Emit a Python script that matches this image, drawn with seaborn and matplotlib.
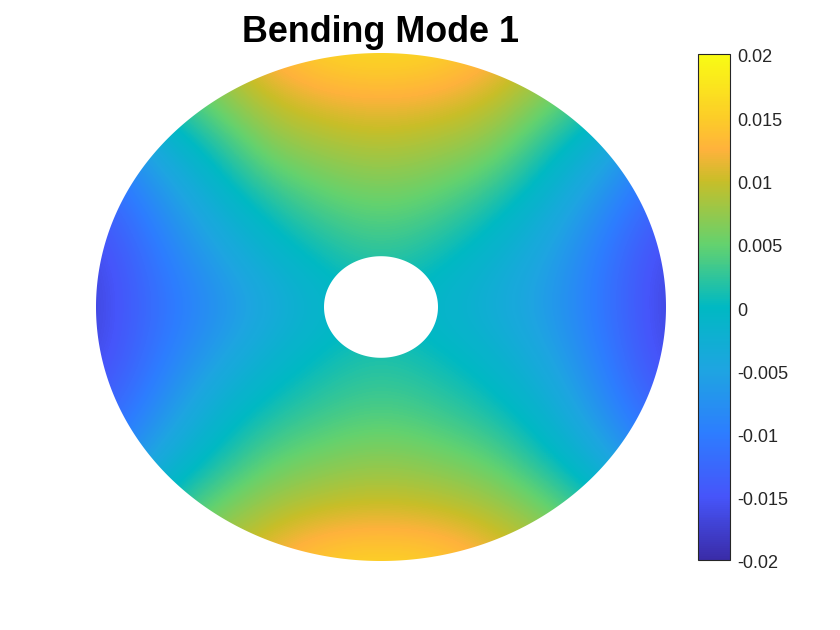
import numpy as np
import matplotlib
matplotlib.use("Agg")
import matplotlib.pyplot as plt
from matplotlib.colors import LinearSegmentedColormap
from matplotlib.path import Path
from matplotlib.transforms import ScaledTranslation
import seaborn as sns

# deflection (x 1e-3), rows top to bottom, columns left to right
# nodes are at -1 .. 1 in steps of 0.2 of the disc radius
row_p10 = [1, 5, 9, 13.5, 16, 16.5, 16, 13.5, 9, 5, 1]
row_p08 = [-6, 0.5, 5.5, 9.5, 11.5, 12, 11.5, 9.5, 5.5, 0.5, -6]
row_p06 = [-11, -4.5, 0.3, 6, 7.5, 8.5, 7.5, 6, 0.3, -4.5, -11]
row_p04 = [-14.5, -8.5, -3, 1.2, 4.2, 5.2, 4.2, 1.2, -3, -8.5, -14.5]
row_p02 = [-16.8, -11, -6, -2, 0.8, 2.5, 0.8, -2, -5.5, -11, -16.8]
row_000 = [-17.2, -12, -8.3, -4.5, -1.5, 0, -1.5, -3.5, -6.5, -11.5, -17.2]
row_m02 = [-16.8, -11, -6, -2, 0.5, 1.8, 0.5, -1.5, -5, -10.5, -16.8]
row_m04 = [-14.5, -8.5, -2.5, 0.8, 2.8, 3.8, 2.8, 0.8, -2.5, -8.5, -14.5]
row_m06 = [-11, -4.5, 0.3, 4.5, 6, 7, 6, 4.5, 0.3, -4.5, -11]
row_m08 = [-6, 0.5, 5.5, 8.5, 10, 10.5, 10, 8.5, 5.5, 0.5, -6]
row_m10 = [1, 5, 9, 12.5, 15.5, 16, 15.5, 12.5, 9, 5, 1]

bar_ticks = [-0.02, -0.015, -0.01, -0.005, 0, 0.005, 0.01, 0.015, 0.02]
bar_labels = ["-0.02", "-0.015", "-0.01", "-0.005", "0", "0.005", "0.01", "0.015", "0.02"]

values = np.array([row_p10, row_p08, row_p06, row_p04, row_p02, row_000,
                   row_m02, row_m04, row_m06, row_m08, row_m10]) * 1e-3

cmap_points = [(0, (58, 44, 168)), (0.125, (70, 85, 250)), (0.25, (45, 125, 255)),
               (0.375, (30, 165, 225)), (0.5, (0, 185, 195)), (0.625, (100, 210, 110)),
               (0.75, (200, 190, 40)), (0.8125, (255, 178, 60)), (0.875, (252, 205, 40)),
               (1, (249, 251, 20))]
cmap = LinearSegmentedColormap.from_list(
    "parula_like", [(p, tuple(c / 255 for c in rgb)) for p, rgb in cmap_points], N=256)

sns.set_theme(style="white")
plt.rcParams["font.family"] = ["Liberation Sans", "DejaVu Sans"]

W, H = 840, 630
fig = plt.figure(figsize=(W / 100, H / 100), dpi=100)
ax = fig.add_axes([67.5 / W, 1 - 586.4 / H, 627 / W, 558.8 / H])
cax = fig.add_axes([698 / W, 1 - 560 / H, 32 / W, 506 / H])

sns.heatmap(values, ax=ax, cbar_ax=cax, cmap=cmap, vmin=-0.02, vmax=0.02,
            xticklabels=False, yticklabels=False, square=False)

# the table is coarse, so draw it again with smooth shading and cut out the annulus
ax.collections[0].set_visible(False)
im = ax.imshow(values, extent=(0, 11, 11, 0), cmap=cmap, vmin=-0.02, vmax=0.02,
               interpolation="bicubic", interpolation_stage="data", aspect="auto")
t = np.linspace(0, 2 * np.pi, 721)
outer = np.c_[5.5 + 5 * np.cos(t), 5.5 + 5 * np.sin(t)]
inner = np.c_[5.5 + np.cos(t[::-1]), 5.5 + np.sin(t[::-1])]
annulus = Path.make_compound_path(Path(outer, closed=True), Path(inner, closed=True))
im.set_clip_path(annulus, transform=ax.transData)
ax.set_xlim(0, 11)
ax.set_ylim(11, 0)
ax.set_axis_off()

cbar = ax.collections[0].colorbar
cbar.set_ticks(bar_ticks, labels=bar_labels)
cbar.ax.tick_params(axis="y", direction="in", length=3, width=0.6, color="#262626",
                    labelsize=13, labelcolor="#262626", pad=5, right=True, left=False)
# labels sit a little below their ticks in the reference
for lbl in cbar.ax.get_yticklabels():
    lbl.set_transform(lbl.get_transform() + ScaledTranslation(0, -2 / 100, fig.dpi_scale_trans))
cbar.outline.set_visible(True)
cbar.outline.set_linewidth(0.8)
cbar.outline.set_edgecolor("#262626")

fig.text(381 / W, 1 - 32 / H, "Bending Mode 1", ha="center", va="center",
         fontsize=25.8, fontweight="bold", color="black")

fig.savefig("out.png", dpi=100, facecolor="white")
